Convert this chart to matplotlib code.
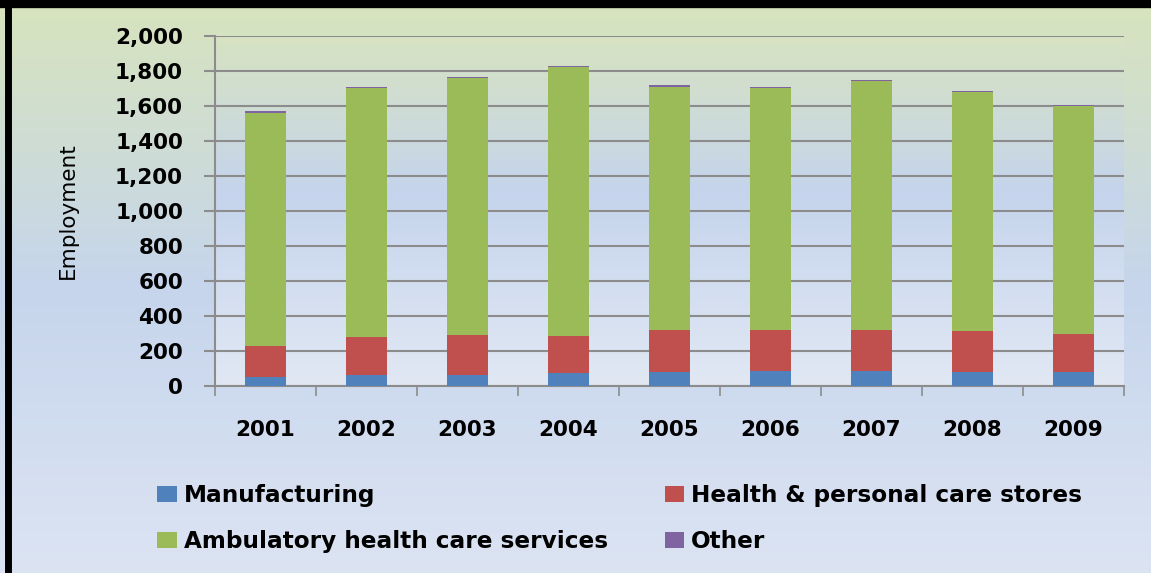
import numpy as np
import matplotlib
matplotlib.use("Agg")
import matplotlib.pyplot as plt
from matplotlib.colors import LinearSegmentedColormap
from matplotlib.patches import Patch

years = ["2001", "2002", "2003", "2004", "2005", "2006", "2007", "2008", "2009"]
manufacturing = [50, 61, 61, 70, 78, 84, 84, 78, 76]
health_stores = [174, 215, 230, 214, 242, 236, 236, 234, 220]
ambulatory = [1338, 1427, 1470, 1536, 1389, 1381, 1423, 1368, 1302]
other = [8, 7, 7, 7, 8, 7, 8, 8, 7]

series_names = ["Manufacturing", "Health & personal care stores",
                "Ambulatory health care services", "Other"]
colors = ["#4f81bd", "#c0504d", "#9bbb59", "#8064a2"]

W, H = 1151, 573
fig = plt.figure(figsize=(W / 100, H / 100), dpi=100)

# figure background gradient
bg = fig.add_axes([0, 0, 1, 1], zorder=0)
bg_cmap = LinearSegmentedColormap.from_list(
    "bg", [(0.0, "#d7e4bd"), (0.5, "#c6d5ec"), (1.0, "#dce4f3")])
bg.imshow(np.linspace(0, 1, 256).reshape(-1, 1), cmap=bg_cmap,
          aspect="auto", extent=[0, 1, 0, 1])
bg.set_xlim(0, 1)
bg.set_ylim(0, 1)
bg.axis("off")
# black frame pieces (left and top)
bg.plot([8 / W, 8 / W], [0, 1], color="black", lw=5, solid_capstyle="butt")
bg.plot([0, 1], [1 - 4 / H, 1 - 4 / H], color="black", lw=6, solid_capstyle="butt")

ax = fig.add_axes([215 / W, 1 - 385.5 / H, 909 / W, 349.5 / H], zorder=1)
ax.set_facecolor("none")
plot_cmap = LinearSegmentedColormap.from_list(
    "pa", [(0.0, "#e1e8f4"), (0.55, "#c5d4ec"), (1.0, "#d7e3c1")])
ax.imshow(np.linspace(0, 1, 256).reshape(-1, 1), cmap=plot_cmap, origin="lower",
          aspect="auto", extent=[0, 1, 0, 1], transform=ax.transAxes, zorder=0)

x = np.arange(len(years))
bottom = np.zeros(len(years))
for vals, name, c in zip([manufacturing, health_stores, ambulatory, other],
                         series_names, colors):
    ax.bar(x, vals, width=0.4, bottom=bottom, color=c, linewidth=0,
           label=name, zorder=3)
    bottom += np.array(vals)

ax.set_xlim(-0.5, len(years) - 0.5)
ax.set_ylim(0, 2000)
ax.set_yticks(np.arange(0, 2001, 200))
ax.set_yticklabels([f"{v:,}" for v in range(0, 2001, 200)])
ax.yaxis.grid(True, color="#8c8c8c", lw=1.5, zorder=1)
ax.set_axisbelow(True)

ax.set_xticks(np.arange(-0.5, len(years), 1))
ax.set_xticklabels([])
ax.set_xticks(x, minor=True)
ax.set_xticklabels(years, minor=True)
ax.tick_params(axis="x", which="major", direction="out", length=7, width=1.2,
               color="#8c8c8c")
ax.tick_params(axis="x", which="minor", length=0, pad=25)
ax.tick_params(axis="y", direction="out", length=8, width=1.5, color="#8c8c8c",
               pad=15)

for lab in ax.get_xticklabels(minor=True) + ax.get_yticklabels():
    lab.set_fontsize(15.5)
    lab.set_fontweight("bold")

for s in ["top", "right"]:
    ax.spines[s].set_visible(False)
ax.spines["left"].set_color("#8c8c8c")
ax.spines["left"].set_linewidth(1.5)
ax.spines["bottom"].set_color("#8c8c8c")
ax.spines["bottom"].set_linewidth(1.5)

ax.set_ylabel("Employment", fontsize=15.5, labelpad=27)

handles = [Patch(facecolor=c, edgecolor="none") for c in colors]
order = [0, 2, 1, 3]
fig.legend([handles[i] for i in order], [series_names[i] for i in order],
           ncol=2, loc="upper left", bbox_to_anchor=(157 / W, 1 - 484 / H),
           frameon=False, borderpad=0, borderaxespad=0,
           prop={"size": 16.7, "weight": "bold"},
           handlelength=0.85, handleheight=0.65, handletextpad=0.3,
           columnspacing=2.45, labelspacing=1.0)

fig.savefig("out.png", dpi=100)
